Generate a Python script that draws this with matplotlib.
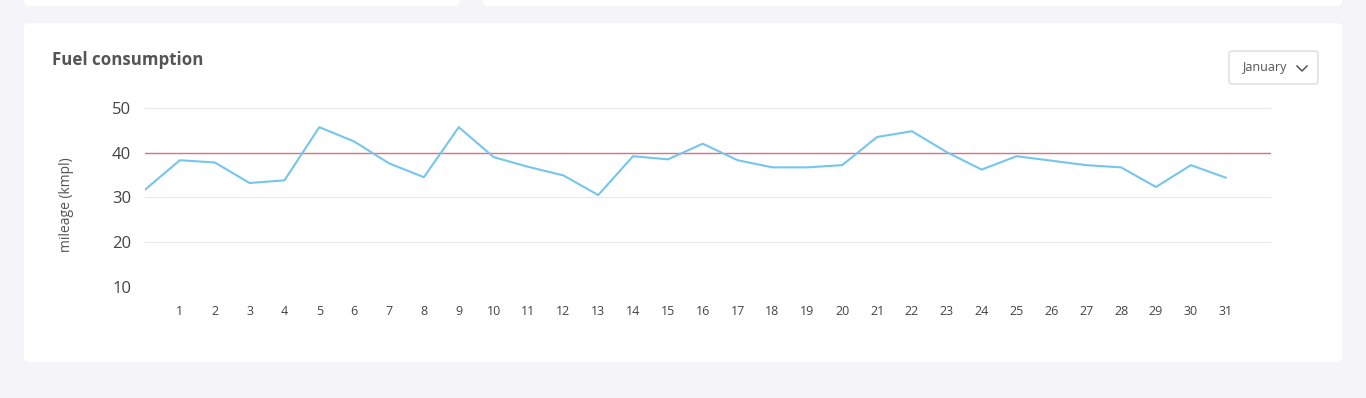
import matplotlib
matplotlib.use("Agg")
import matplotlib.pyplot as plt
from matplotlib.patches import FancyBboxPatch
from matplotlib.transforms import IdentityTransform
from matplotlib.lines import Line2D

# data
days = list(range(0, 32))
day_labels = [str(d) for d in range(1, 32)]
mileage = [31.7, 38.3, 37.8, 33.2, 33.8, 45.7, 42.5, 37.6, 34.5, 45.7,
           39.0, 36.8, 34.9, 30.5, 39.2, 38.5, 42.0, 38.3, 36.7, 36.7,
           37.2, 43.5, 44.8, 40.1, 36.2, 39.2, 38.2, 37.2, 36.7, 32.3,
           37.2, 34.4]
target = 40
y_ticks = [10, 20, 30, 40, 50]

plt.rcParams['font.family'] = ['Open Sans', 'DejaVu Sans']

W, H = 1366, 398
fig = plt.figure(figsize=(W / 100, H / 100), dpi=100)
fig.patch.set_facecolor('#f4f4f9')


def card(x0, y0, x1, y1):
    # pixel coords measured from the top-left
    p = FancyBboxPatch((x0, H - y1), x1 - x0, y1 - y0,
                       boxstyle="round,pad=0,rounding_size=5",
                       transform=IdentityTransform(),
                       facecolor='white', edgecolor='none', zorder=0)
    fig.add_artist(p)


card(24, -20, 460, 6)
card(483, -20, 1342, 6)
card(24, 23, 1342, 362)

ax = fig.add_axes([145 / W, 1 - 287 / H, (1271 - 145) / W, (287 - 108) / H])
ax.set_facecolor('none')
ax.plot(days, mileage, color='#74c6ec', lw=1.5, zorder=3)
ax.axhline(target, color='#e0707f', lw=1.0, zorder=2)

ax.set_xlim(0, 32.3)
ax.set_ylim(9.9, 50)
ax.set_yticks(y_ticks)
ax.set_xticks(days[1:])
ax.set_xticklabels(day_labels)
ax.tick_params(axis='y', length=0, pad=10, labelsize=12, labelcolor='#444444')
ax.tick_params(axis='x', length=0, pad=13, labelsize=9, labelcolor='#444444')
ax.grid(axis='y', color='#e8e8e8', lw=0.8)
ax.set_axisbelow(True)
for s in ax.spines.values():
    s.set_visible(False)

fig.text(66 / W, 1 - 205 / H, 'mileage (kmpl)', rotation=90, ha='center',
         va='center', fontsize=10, color='#555555')

fig.text(52 / W, 1 - 60 / H, 'Fuel consumption', ha='left', va='center',
         fontsize=12.2, fontweight='bold', color='#555555')

# month dropdown
box = FancyBboxPatch((1229, H - 84), 89, 33, boxstyle="round,pad=0,rounding_size=3",
                     transform=IdentityTransform(), facecolor='white',
                     edgecolor='#dcdcdc', lw=1)
fig.add_artist(box)
fig.text(1264 / W, 1 - 68 / H, 'January', ha='center', va='center',
         fontsize=9, color='#555555')
fig.add_artist(Line2D([1297 / W, 1302 / W, 1307 / W],
                      [1 - 66 / H, 1 - 71 / H, 1 - 66 / H],
                      transform=fig.transFigure, color='#555555', lw=1.1))

fig.savefig('out.png', dpi=100, facecolor=fig.get_facecolor())
